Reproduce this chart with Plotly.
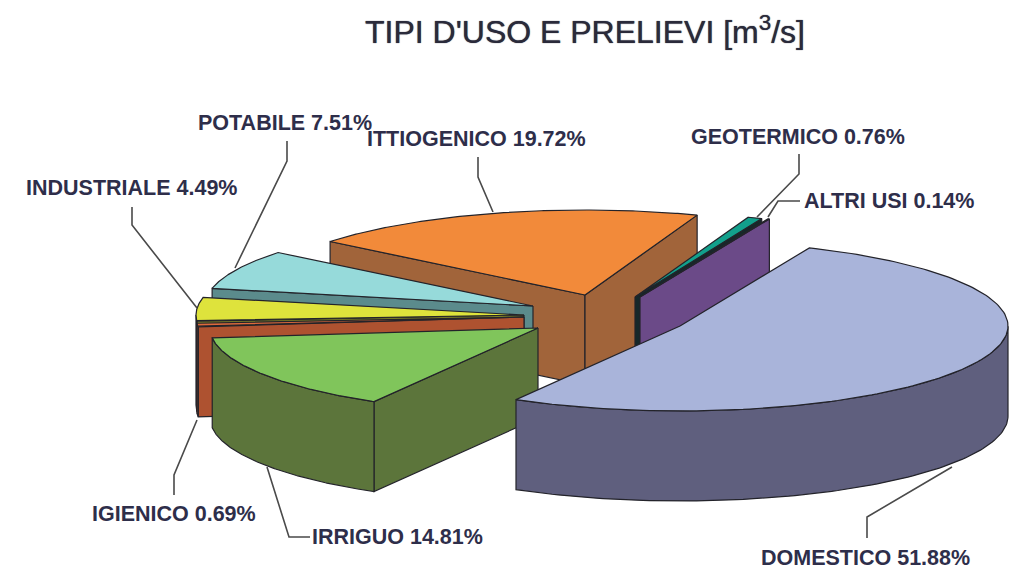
import numpy as np
import plotly.graph_objects as go

# ---- data, clockwise from the back of the pie ----
categories = ["ITTIOGENICO", "GEOTERMICO", "ALTRI USI", "DOMESTICO",
              "IRRIGUO", "IGIENICO", "INDUSTRIALE", "POTABILE"]
values = [19.72, 0.76, 0.14, 51.88, 14.81, 0.69, 4.49, 7.51]

top_colors = ["#F28A3A", "#12A08C", "#6B4A88", "#A9B4DA",
              "#80C55B", "#DE6A3C", "#DEE33C", "#96DADA"]
wall_colors = ["#A1643A", "#16282A", "#6B4A88", "#5F5F7E",
               "#5C753B", "#AE5230", "#7F8226", "#5B8B8C"]
# exploded apex of each slice on the page
apex_x = [585, 635, 640, 680, 538, 524, 524, 533]
apex_y = [295, 297, 297, 326, 328, 317, 315, 306]

RX, RY, DEPTH, START = 328, 85, 90, 141.0
EDGE = "#23232a"

label_text = [f"{c} {v:.2f}%" for c, v in zip(categories, values)]
label_x = [366, 690, 803, 760, 311, 91, 25, 197]
label_y = [139, 137, 201, 558, 537, 514, 188, 123]
leaders = [
    [(478, 157), (478, 177), (493, 212)],
    [(799, 154), (799, 174), (757, 217)],
    [(800, 201), (778, 201), (768, 217)],
    [(867, 538), (867, 517), (952, 467)],
    [(310, 537), (289, 537), (267, 467)],
    [(174, 495), (174, 475), (197, 420)],
    [(132, 207), (132, 225), (197, 308)],
    [(287, 141), (287, 161), (235, 268)],
]

fig = go.Figure()


def poly(xs, ys, fill, width=1.2):
    fig.add_trace(go.Scatter(
        x=list(xs) + [xs[0]], y=list(ys) + [ys[0]], mode="lines", fill="toself",
        fillcolor=fill, line=dict(color=EDGE, width=width),
        hoverinfo="skip", showlegend=False))


def rim(cx, cy, deg):
    r = np.radians(deg)
    return cx + RX * np.cos(r), cy - RY * np.sin(r)


def cut_wall(cx, cy, deg, color):
    ox, oy = rim(cx, cy, deg)
    poly([cx, ox, ox, cx], [cy, oy, oy + DEPTH, cy + DEPTH], color)


def slice_3d(cx, cy, t0, t1, top, wall):
    # t0 > t1: the slice runs clockwise from t0 to t1
    if np.cos(np.radians(t0)) < 0:
        cut_wall(cx, cy, t0, wall)
    if np.cos(np.radians(t1)) > 0:
        cut_wall(cx, cy, t1, wall)
    # outer wall: only the front half of the rim (sin < 0)
    ts = np.linspace(t0, t1, 160)
    front = ts[np.sin(np.radians(ts)) <= 0]
    if len(front) > 1:
        ox, oy = rim(cx, cy, front)
        poly(np.r_[ox, ox[::-1]], np.r_[oy, oy[::-1] + DEPTH], wall)
    ox, oy = rim(cx, cy, ts)
    poly(np.r_[cx, ox], np.r_[cy, oy], top)


spans = []
t = START
for v in values:
    spans.append((t, t - v * 3.6))
    t -= v * 3.6

# painter's order, back to front
for i in [0, 7, 6, 5, 4, 1, 2, 3]:
    slice_3d(apex_x[i], apex_y[i], spans[i][0], spans[i][1], top_colors[i], wall_colors[i])

for pts in leaders:
    fig.add_trace(go.Scatter(
        x=[p[0] for p in pts], y=[p[1] for p in pts], mode="lines",
        line=dict(color="#4a4a4a", width=1.6), hoverinfo="skip", showlegend=False))

for text, x, y in zip(label_text, label_x, label_y):
    fig.add_annotation(x=x, y=y, text=f"<b>{text}</b>", xref="x", yref="y", showarrow=False,
                       xanchor="left", yanchor="middle",
                       font=dict(family="Liberation Sans", size=21.5, color="#2E2E4A"),
                       borderpad=0)

fig.add_annotation(x=585, y=30, text="TIPI D'USO E PRELIEVI [m<sup>3</sup>/s]",
                   xref="x", yref="y", showarrow=False, xanchor="center", yanchor="middle",
                   font=dict(family="Liberation Sans", size=32, color="#2A2A3A",
                             shadow="0 0 1px #2A2A3A"))

fig.update_layout(
    width=1023, height=569, margin=dict(l=0, r=0, t=0, b=0),
    paper_bgcolor="white", plot_bgcolor="white", showlegend=False,
    xaxis=dict(range=[0, 1023], visible=False, fixedrange=True),
    yaxis=dict(range=[569, 0], visible=False, fixedrange=True),
)
fig.write_html("out.html", post_script="document.body.style.margin='0';document.body.style.overflow='hidden';",
               config={"displayModeBar": False})
